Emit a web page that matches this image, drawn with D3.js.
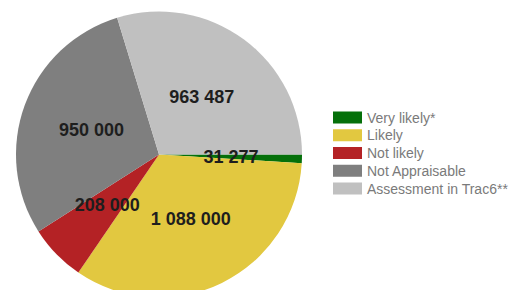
<!DOCTYPE html>
<html>
<head>
<meta charset="utf-8">
<script src="https://cdn.jsdelivr.net/npm/d3@7"></script>
<style>
  body { margin: 0; background: #fff; }
  svg { display: block; }
</style>
</head>
<body>
<svg id="chart" width="512" height="290"></svg>
<script>
'use strict'

// chart data
const categories = ['Very likely*', 'Likely', 'Not likely', 'Not Appraisable', 'Assessment in Trac6**']
const values = [31277, 1088000, 208000, 950000, 963487]
const colors = ['#05700a', '#e2c840', '#b42225', '#7f7f7f', '#c0c0c0']

const W = 512, H = 290
const cx = 159, cy = 154.5, R = 143

const svg = d3.select('#chart')

const fmt = d3.formatLocale({ decimal: '.', thousands: ' ', grouping: [3], currency: ['', ''] }).format(',d')

const data = categories.map((name, i) => ({ name, value: values[i], color: colors[i] }))

// pie starts at 3 o'clock, clockwise
const pie = d3.pie()
  .value(d => d.value)
  .sort(null)
  .startAngle(Math.PI / 2)
  .endAngle(Math.PI / 2 + 2 * Math.PI)

const arcs = pie(data)
const arc = d3.arc().innerRadius(0).outerRadius(R)
const labelArc = d3.arc().innerRadius(72).outerRadius(72)

const g = svg.append('g').attr('transform', `translate(${cx},${cy})`)

g.selectAll('path.slice')
  .data(arcs)
  .enter().append('path')
  .attr('class', 'slice')
  .attr('d', arc)
  .attr('fill', d => d.data.color)

g.selectAll('text.value')
  .data(arcs)
  .enter().append('text')
  .attr('class', 'value')
  .attr('transform', d => `translate(${labelArc.centroid(d)})`)
  .attr('text-anchor', 'middle')
  .attr('dominant-baseline', 'central')
  .style('font-family', 'Arial, "Liberation Sans", sans-serif')
  .style('font-size', '18px')
  .style('font-weight', 'bold')
  .attr('fill', '#1e1e1e')
  .text(d => fmt(d.data.value))

// legend
const rowY = d3.scalePoint()
  .domain(categories)
  .range([117.5, 188.5])

const legend = svg.append('g').attr('class', 'legend')
const rows = legend.selectAll('g.row')
  .data(data)
  .enter().append('g')
  .attr('class', 'row')
  .attr('transform', d => `translate(333,${rowY(d.name)})`)

rows.append('rect')
  .attr('x', 0)
  .attr('y', -6)
  .attr('width', 29)
  .attr('height', 12)
  .attr('fill', d => d.color)

rows.append('text')
  .attr('x', 34)
  .attr('y', 0)
  .attr('dominant-baseline', 'central')
  .style('font-family', 'Arial, "Liberation Sans", sans-serif')
  .style('font-size', '14px')
  .attr('fill', '#7a7a7a')
  .text(d => d.name)
</script>
</body>
</html>
